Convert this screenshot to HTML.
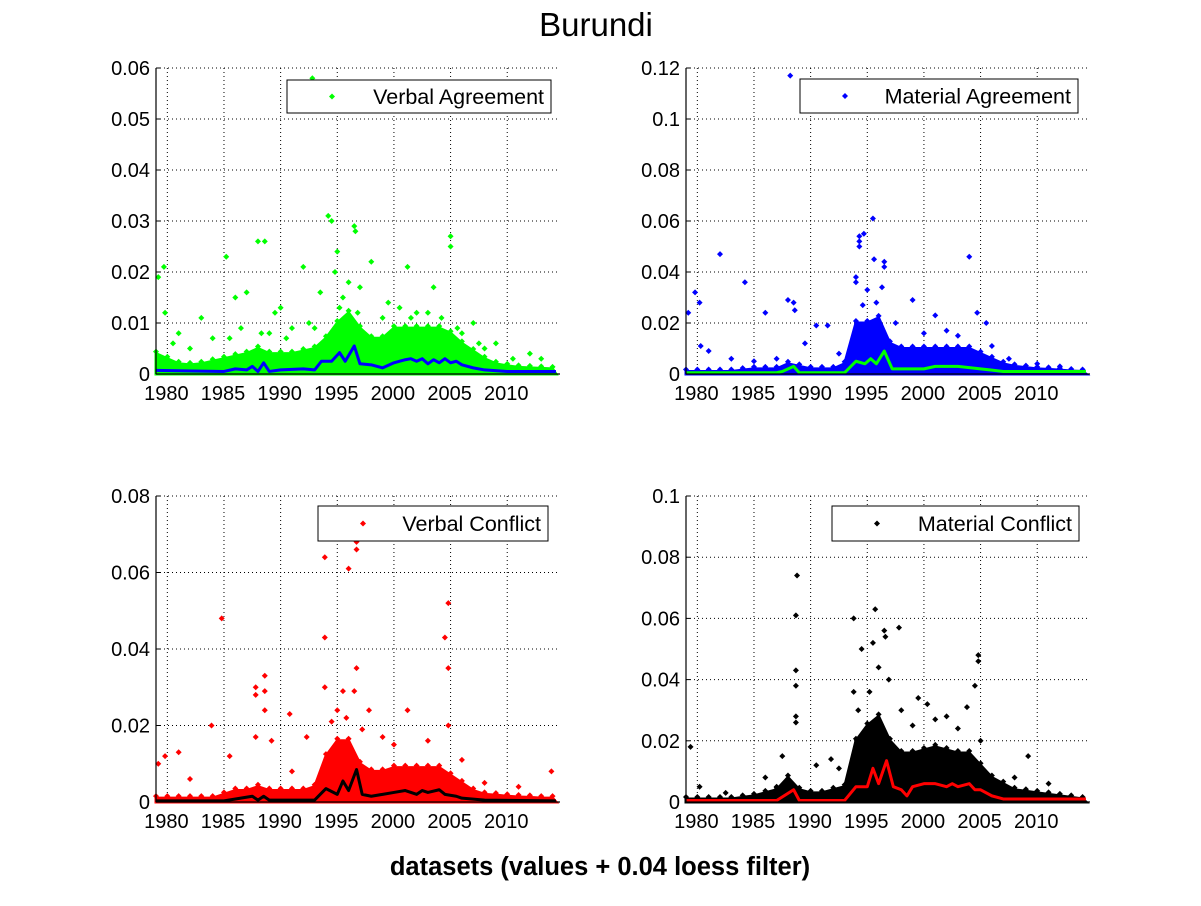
<!DOCTYPE html>
<html><head><meta charset="utf-8"><style>
body{margin:0;background:#fff;}
svg text{font-family:"Liberation Sans",sans-serif;}
</style></head><body>
<svg id="fig" width="1201" height="901" viewBox="0 0 1201 901">
<rect width="1201" height="901" fill="#fff"/>
<text x="596" y="36" font-size="33" text-anchor="middle">Burundi</text>
<text x="600" y="875" font-size="25.5" font-weight="bold" text-anchor="middle">datasets (values + 0.04 loess filter)</text>
</svg>
<script>
const envYears=[1979,1980,1981,1982,1983,1984,1985,1986,1987,1988,1989,1990,1991,1992,1993,1994,1995,1996,1997,1998,1999,2000,2001,2002,2003,2004,2005,2006,2007,2008,2009,2010,2011,2012,2013,2014];
const envVA=[.004,.003,.002,.0018,.002,.0025,.003,.0035,.004,.005,.004,.004,.004,.0045,.005,.007,.010,.012,.009,.007,.007,.009,.009,.009,.009,.009,.008,.006,.0045,.003,.002,.0016,.0013,.0012,.0011,.001];
const envMA=[.001,.001,.001,.001,.001,.0015,.002,.002,.002,.004,.003,.002,.002,.002,.004,.02,.02,.022,.012,.01,.01,.01,.01,.01,.01,.01,.008,.006,.004,.003,.0025,.002,.0018,.0015,.0012,.001];
const envVC=[.001,.001,.001,.001,.001,.001,.002,.003,.003,.004,.003,.003,.003,.003,.004,.012,.016,.016,.01,.008,.008,.009,.009,.009,.009,.009,.007,.005,.003,.002,.0018,.0015,.0013,.0012,.001,.001];
const envMC=[.001,.001,.001,.001,.001,.0015,.002,.003,.004,.008,.004,.003,.003,.004,.005,.02,.025,.028,.02,.016,.016,.017,.018,.017,.016,.016,.012,.008,.006,.004,.0035,.003,.0025,.002,.0015,.001];

const loYA=[1979,1985,1986,1987,1987.5,1988,1988.5,1989,1990,1992,1993,1993.6,1994.5,1995.2,1995.7,1996.5,1997,1998,1999,2000,2001,2001.5,2002,2002.5,2003,2003.5,2004,2004.5,2005,2005.5,2006,2007,2008,2010,2014.3];
const loVA=[.0007,.0005,.001,.0008,.0015,.0005,.0022,.0005,.0008,.001,.0008,.0025,.0025,.0042,.0025,.0055,.002,.0018,.0012,.0022,.0028,.003,.0025,.003,.002,.0028,.0022,.003,.0022,.0025,.0018,.0012,.0008,.0005,.0005];
const loYB=[1979,1987,1987.5,1988.5,1989,1993,1994,1994.8,1995.3,1995.8,1996.5,1997.2,1998,2000,2001,2002,2003,2004,2005,2006,2007,2014.3];
const loMA=[.0005,.0005,.001,.003,.0005,.0005,.005,.004,.006,.004,.009,.002,.002,.002,.003,.003,.003,.0025,.002,.0015,.001,.001];
const loYC=[1979,1985,1987.5,1988,1988.5,1989,1993,1994,1995,1995.5,1996,1996.7,1997.2,1998,1999,2000,2001,2002,2002.5,2003,2004,2004.5,2005.5,2006,2008,2014.3];
const loVC=[.0003,.0003,.0015,.0005,.0015,.0005,.0005,.0035,.002,.0055,.003,.0085,.002,.0015,.002,.0025,.003,.002,.003,.0025,.0032,.002,.0015,.001,.0005,.0003];
const loYD=[1979,1987,1988.5,1989,1993,1994,1995,1995.5,1996,1996.7,1997.3,1998,1998.5,1999,2000,2001,2002,2002.5,2003,2004,2004.5,2005,2006,2007,2014.3];
const loMC=[.0005,.0005,.004,.0005,.0005,.005,.005,.011,.006,.0135,.005,.004,.002,.005,.006,.006,.005,.006,.005,.006,.004,.004,.002,.001,.001];

const outYA=[1992.8,1994.2,1994.5,1996.5,1996.6,1988,1988.6,1995,1998,2005,2005,2001.2,1985.2,1992,1979.7,1979.2,1979.8,1994.8,1996,1997,2003.5,1986,1987,1993.5,1983,2007,1999.5,2000.5,2009,2012,1990,1995.5,1989.5,1981,1984,1986.5,1989,1991,1992.5,2002,2006,2008,1980.5,1982,1985.5,1988.3,1990.5,1993,1995.2,1996.8,1999,2001.5,2003,2004.2,2005.6,2007.5,2010.5,2013];
const outVA=[.058,.031,.030,.029,.028,.026,.026,.024,.022,.027,.025,.021,.023,.021,.021,.019,.012,.02,.018,.017,.017,.015,.016,.016,.011,.01,.014,.013,.006,.004,.013,.015,.012,.008,.007,.009,.008,.009,.01,.012,.008,.005,.006,.005,.007,.008,.007,.009,.013,.012,.011,.011,.012,.011,.009,.006,.003,.003];
const outYB=[1988.2,1995.5,1994.3,1994.3,1994.7,1994.3,1982,1984.2,1995.6,1996.5,1996.5,2004,1979.2,1979.8,1980.2,1986,1988,1988.5,1988.6,1994,1994,1995,1996.3,1999,2001,2004.7,2005.5,1991.5,1990.5,1980.3,1981,1983,1987,2007.5,2010,2012,1985,1989.5,1992.5,1994.6,1995.8,1997.5,2000,2002,2003,2006];
const outVB=[.117,.061,.054,.052,.055,.050,.047,.036,.045,.044,.042,.046,.024,.032,.028,.024,.029,.028,.025,.038,.036,.033,.034,.029,.023,.024,.02,.019,.019,.011,.009,.006,.006,.006,.004,.003,.005,.012,.008,.027,.028,.02,.016,.017,.015,.011];
const outYC=[1996.7,1996.7,1993.9,1996,2004.8,1984.8,1993.9,2004.5,1996.7,2004.8,1988.6,1987.8,1987.8,1993.9,1995.5,1996.5,1988.6,1988.6,1983.9,1979.2,1979.8,1981,1982,1990.8,1992.3,1997.8,2001.2,2004.8,2013.9,1987.8,1989.2,2008,2011,1985.5,1991,1995,1999,1994.5,1995.8,1997.2,2000,2003,2006];
const outVC=[.068,.066,.064,.061,.052,.048,.043,.043,.035,.035,.033,.030,.028,.03,.029,.029,.029,.024,.020,.01,.012,.013,.006,.023,.017,.024,.024,.02,.008,.017,.016,.005,.004,.012,.008,.024,.017,.021,.022,.019,.015,.016,.011];
const outYD=[1988.8,1988.7,1995.7,1993.8,1997.8,1996.5,1996.6,1995.5,2004.8,2004.8,1988.7,1988.7,1994.5,1996,1993.8,1979.4,1980.2,1982.5,1986,1987.5,1988.7,1988.7,1991.8,1999.5,2000.3,2004.5,2003.8,2005,2009.2,2008,2011,1987,1990.5,1992.5,1998,2002,1994.2,1995.2,1996.9,1999,2001,2003];
const outVD=[.074,.061,.063,.06,.057,.056,.054,.052,.048,.046,.043,.038,.05,.044,.036,.018,.005,.003,.008,.015,.028,.026,.014,.034,.032,.038,.031,.02,.015,.008,.006,.005,.012,.011,.03,.028,.03,.036,.04,.025,.027,.024];

const xTicks=[1980,1985,1990,1995,2000,2005,2010];
const yTicksA=[0,0.01,0.02,0.03,0.04,0.05,0.06];
const yTicksB=[0,0.02,0.04,0.06,0.08,0.1,0.12];
const yTicksC=[0,0.02,0.04,0.06,0.08];
const yTicksD=[0,0.02,0.04,0.06,0.08,0.1];

const NS='http://www.w3.org/2000/svg';
const svg=document.getElementById('fig');
function mk(tag,attrs,parent){const e=document.createElementNS(NS,tag);for(const k in attrs)e.setAttribute(k,attrs[k]);(parent||svg).appendChild(e);return e;}

const panels=[
 {name:'verbal-agreement',x0:156,x1:560,y0:374,y1:68,ymax:0.06,ticks:yTicksA,env:envVA,loY:loYA,loV:loVA,oY:outYA,oV:outVA,col:'#00ff00',lcol:'#0000ff',label:'Verbal Agreement',lg:[287,80,264,33],tl:['0','0.01','0.02','0.03','0.04','0.05','0.06']},
 {name:'material-agreement',x0:686,x1:1090,y0:374,y1:68,ymax:0.12,ticks:yTicksB,env:envMA,loY:loYB,loV:loMA,oY:outYB,oV:outVB,col:'#0000ff',lcol:'#00ff00',label:'Material Agreement',lg:[800,79,278,34],tl:['0','0.02','0.04','0.06','0.08','0.1','0.12']},
 {name:'verbal-conflict',x0:156,x1:560,y0:802,y1:496,ymax:0.08,ticks:yTicksC,env:envVC,loY:loYC,loV:loVC,oY:outYC,oV:outVC,col:'#ff0000',lcol:'#000000',label:'Verbal Conflict',lg:[318,506,230,35],tl:['0','0.02','0.04','0.06','0.08']},
 {name:'material-conflict',x0:686,x1:1090,y0:802,y1:496,ymax:0.1,ticks:yTicksD,env:envMC,loY:loYD,loV:loMC,oY:outYD,oV:outVD,col:'#000000',lcol:'#ff0000',label:'Material Conflict',lg:[832,506,247,35],tl:['0','0.02','0.04','0.06','0.08','0.1']}
];

function diamond(x,y,r){return `M${x} ${y-r}L${x+r} ${y}L${x} ${y+r}L${x-r} ${y}Z`;}

panels.forEach(p=>{
 const g=mk('g',{});
 
 
 const sx=yr=>p.x0+(yr-1979)*11.33;
 const sy=v=>p.y0-(v/p.ymax)*(p.y0-p.y1);
 xTicks.forEach(t=>{
  const l=mk('line',{x1:sx(t),x2:sx(t),y1:p.y1,y2:p.y0,stroke:'#000','stroke-width':1,'stroke-dasharray':'1,3'},g);
  
  
  const tx=mk('text',{x:sx(t)-1,y:p.y0+26,'font-size':20,'text-anchor':'middle'},g);
  tx.textContent=t;
  
  
 });
 p.ticks.forEach((t,i)=>{
  if(t>0){const l=mk('line',{x1:p.x0,x2:p.x1,y1:sy(t),y2:sy(t),stroke:'#000','stroke-width':1,'stroke-dasharray':'1,3'},g);
  
  }
  mk('line',{x1:p.x0,x2:p.x0+4,y1:sy(t),y2:sy(t),stroke:'#000'},g);
  const tx=mk('text',{x:p.x0-6,y:sy(t)+7,'font-size':20,'text-anchor':'end'},g);
  tx.textContent=p.tl[i];
  
  
 });
 let d=`M${sx(1979)} ${sy(0)}`;
 envYears.forEach((y,i)=>{d+=`L${sx(Math.min(y,2014.3))} ${sy(p.env[i])}`;});
 d+=`L${sx(2014.3)} ${sy(0)}Z`;
 const env=mk('path',{d:d,fill:p.col,stroke:p.col,'stroke-width':3},g);
 
 
 envYears.forEach((y,i)=>{
  const m=mk('path',{d:diamond(sx(Math.min(y,2014.3)),sy(p.env[i])-2,3),fill:p.col},g);
  
  
 });
 p.oY.forEach((y,i)=>{
  const m=mk('path',{d:diamond(sx(y),sy(p.oV[i]),3),fill:p.col},g);
  
  
 });
 const pts=p.loY.map((y,i)=>`${sx(y)},${sy(p.loV[i])}`).join(' ');
 const pl=mk('polyline',{points:pts,fill:'none',stroke:p.lcol,'stroke-width':3,'stroke-linejoin':'round'},g);
 
 
 mk('line',{x1:p.x0,x2:p.x0,y1:p.y1,y2:p.y0,stroke:'#000','stroke-width':1.2},g);
 mk('line',{x1:p.x0,x2:p.x1,y1:p.y0,y2:p.y0,stroke:'#000','stroke-width':1.2},g);
 const [lx,ly,lw,lh]=p.lg;
 const lgG=mk('g',{},g);
 
 
 mk('rect',{x:lx,y:ly,width:lw,height:lh,fill:'#fff',stroke:'#000','stroke-width':1},lgG);
 mk('path',{d:diamond(lx+45,ly+lh/2,3),fill:p.col},lgG);
 const lt=mk('text',{x:lx+lw-7,y:ly+lh/2+7.5,'font-size':21.5,'text-anchor':'end'},lgG);
 lt.textContent=p.label;
 
 
});
</script>
</body></html>
